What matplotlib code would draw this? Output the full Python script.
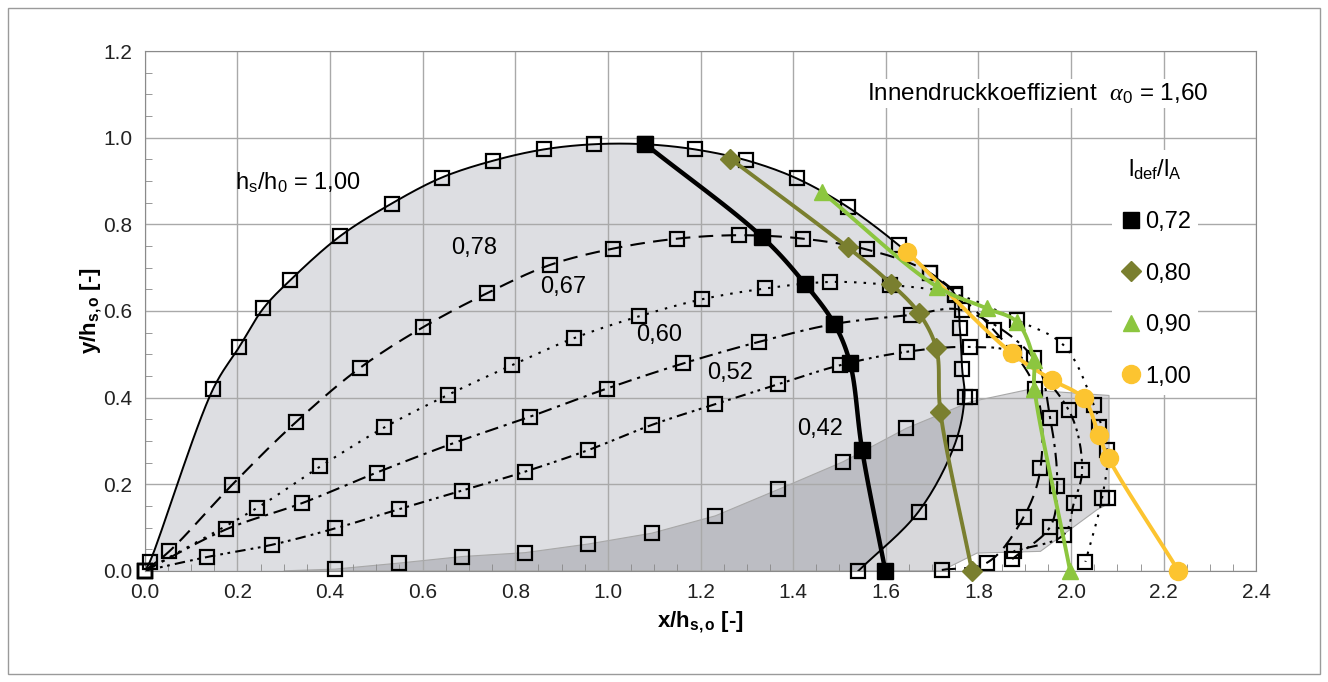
import numpy as np
import matplotlib
matplotlib.use('Agg')
import matplotlib.pyplot as plt
from matplotlib.patches import Polygon, Rectangle
from matplotlib.lines import Line2D
from matplotlib.ticker import MultipleLocator, FormatStrFormatter

plt.rcParams['font.family'] = ['Liberation Sans', 'DejaVu Sans']
plt.rcParams['mathtext.fontset'] = 'custom'
plt.rcParams['mathtext.rm'] = 'Liberation Sans'
plt.rcParams['mathtext.it'] = 'Liberation Serif:italic'
plt.rcParams['mathtext.bf'] = 'Liberation Sans:bold'

# --- hose contours for hs/h0 (open squares) ---
x_100 = [0.0, 0.011, 0.148, 0.204, 0.256, 0.314, 0.422, 0.533, 0.641, 0.752, 0.861, 0.969, 1.081,
         1.189, 1.299, 1.408, 1.518, 1.628, 1.695, 1.750, 1.760, 1.765, 1.770, 1.750, 1.671, 1.541]
y_100 = [0.0, 0.021, 0.421, 0.517, 0.606, 0.671, 0.773, 0.848, 0.908, 0.947, 0.973, 0.985, 0.985,
         0.973, 0.948, 0.906, 0.840, 0.752, 0.688, 0.637, 0.560, 0.465, 0.402, 0.295, 0.137, 0.0]

x_078 = [0.0, 0.053, 0.188, 0.327, 0.464, 0.600, 0.739, 0.874, 1.011, 1.149, 1.284, 1.421, 1.559,
         1.695, 1.833, 1.923, 1.934, 1.898, 1.819, 1.721]
y_078 = [0.0, 0.045, 0.198, 0.344, 0.468, 0.562, 0.641, 0.706, 0.744, 0.767, 0.775, 0.767, 0.742,
         0.688, 0.556, 0.421, 0.237, 0.125, 0.019, 0.002]

x_067 = [0.0, 0.242, 0.379, 0.517, 0.654, 0.793, 0.926, 1.068, 1.203, 1.340, 1.479, 1.610, 1.750,
         1.883, 1.984, 2.049, 2.078, 2.067, 2.031]
y_067 = [0.0, 0.145, 0.241, 0.331, 0.406, 0.475, 0.537, 0.588, 0.627, 0.652, 0.667, 0.660, 0.639,
         0.579, 0.521, 0.383, 0.280, 0.168, 0.021]

x_060 = [0.0, 0.176, 0.339, 0.501, 0.667, 0.832, 0.998, 1.163, 1.327, 1.489, 1.655, 1.765, 1.919,
         1.955, 1.970, 1.955, 1.873]
y_060 = [0.0, 0.096, 0.156, 0.227, 0.295, 0.356, 0.421, 0.479, 0.529, 0.570, 0.591, 0.602, 0.491,
         0.352, 0.196, 0.102, 0.027]

x_052 = [0.0, 0.135, 0.274, 0.411, 0.548, 0.685, 0.821, 0.958, 1.095, 1.232, 1.368, 1.502, 1.646,
         1.782, 1.876, 1.995, 2.024, 2.006, 1.984, 1.876]
y_052 = [0.0, 0.032, 0.060, 0.098, 0.142, 0.185, 0.229, 0.279, 0.337, 0.385, 0.431, 0.475, 0.506,
         0.517, 0.503, 0.371, 0.233, 0.156, 0.083, 0.045]

x_042 = [0.411, 0.550, 0.685, 0.821, 0.958, 1.095, 1.232, 1.368, 1.508, 1.644, 1.782, 2.060, 2.080]
y_042 = [0.004, 0.018, 0.033, 0.042, 0.062, 0.087, 0.127, 0.188, 0.252, 0.329, 0.402, 0.333, 0.168]

# shaded area of the 0,42 contour
fill42_x = [0.30, 0.411, 0.550, 0.685, 0.821, 0.958, 1.095, 1.232, 1.368, 1.508, 1.644, 1.782,
            1.905, 2.082, 2.082, 2.056, 1.934, 1.797, 1.720]
fill42_y = [0.0, 0.004, 0.018, 0.033, 0.042, 0.062, 0.087, 0.127, 0.188, 0.252, 0.329, 0.390,
            0.418, 0.405, 0.156, 0.141, 0.045, 0.041, 0.0]

curve_labels = ['0,78', '0,67', '0,60', '0,52', '0,42']
curve_label_x = [0.662, 0.854, 1.062, 1.214, 1.408]
curve_label_y = [0.745, 0.656, 0.544, 0.456, 0.327]

# --- crest lines for ldef/lA (filled markers) ---
x_l072 = [1.081, 1.333, 1.426, 1.489, 1.523, 1.549, 1.599]
y_l072 = [0.985, 0.771, 0.662, 0.570, 0.479, 0.279, 0.0]
x_l080 = [1.264, 1.518, 1.612, 1.671, 1.709, 1.718, 1.786]
y_l080 = [0.952, 0.747, 0.662, 0.596, 0.514, 0.367, 0.0]
x_l090 = [1.462, 1.711, 1.818, 1.883, 1.919, 1.921, 1.998]
y_l090 = [0.875, 0.656, 0.606, 0.575, 0.487, 0.421, 0.0]
x_l100 = [1.646, 1.873, 1.959, 2.027, 2.060, 2.081, 2.232]
y_l100 = [0.737, 0.502, 0.441, 0.398, 0.314, 0.260, 0.0]
ldef_labels = ['0,72', '0,80', '0,90', '1,00']


def smooth(x, y, n=16, a=0.5):
    # centripetal Catmull-Rom through the points (similar to Excel's smoothed lines)
    pts = np.column_stack([x, y]).astype(float)
    p = np.vstack([2 * pts[0] - pts[1], pts, 2 * pts[-1] - pts[-2]])
    out = []
    for i in range(1, len(p) - 2):
        p0, p1, p2, p3 = p[i - 1], p[i], p[i + 1], p[i + 2]
        t0 = 0.0
        t1 = t0 + max(np.linalg.norm(p1 - p0), 1e-6) ** a
        t2 = t1 + max(np.linalg.norm(p2 - p1), 1e-6) ** a
        t3 = t2 + max(np.linalg.norm(p3 - p2), 1e-6) ** a
        t = np.linspace(t1, t2, n, endpoint=False)[:, None]
        a1 = (t1 - t) / (t1 - t0) * p0 + (t - t0) / (t1 - t0) * p1
        a2 = (t2 - t) / (t2 - t1) * p1 + (t - t1) / (t2 - t1) * p2
        a3 = (t3 - t) / (t3 - t2) * p2 + (t - t2) / (t3 - t2) * p3
        b1 = (t2 - t) / (t2 - t0) * a1 + (t - t0) / (t2 - t0) * a2
        b2 = (t3 - t) / (t3 - t1) * a2 + (t - t1) / (t3 - t1) * a3
        out.append((t2 - t) / (t2 - t1) * b1 + (t - t1) / (t2 - t1) * b2)
    out.append(pts[-1:])
    s = np.vstack(out)
    return s[:, 0], s[:, 1]


fig = plt.figure(figsize=(13.28, 6.82), dpi=100)
ax = fig.add_axes([0.109, 0.163, 0.837, 0.762])
fig.patches.append(Rectangle((0.006, 0.012), 0.988, 0.976, transform=fig.transFigure,
                             fill=False, edgecolor='#9a9a9a', lw=1))

# shaded areas
sx, sy = smooth(x_100, y_100)
ax.add_patch(Polygon(np.column_stack([sx, sy]), closed=True, facecolor='#dddee2',
                     edgecolor='none', zorder=0.2))
ax.add_patch(Polygon(np.column_stack([fill42_x, fill42_y]), closed=True, facecolor='#1c1c2c',
                     alpha=0.17, edgecolor='none', zorder=0.3))
ax.add_patch(Polygon(np.column_stack([fill42_x, fill42_y]), closed=True, facecolor='none',
                     edgecolor='#a8a8a8', lw=0.8, zorder=0.4))

mk = dict(marker='s', ms=10, mfc='none', mec='black', mew=1.6, ls='none', zorder=3, clip_on=False)

ax.plot(sx, sy, color='black', lw=1.4, zorder=2)
ax.plot(x_100, y_100, **mk)

for xs, ys, dash in [(x_078, y_078, (7, 4)),
                     (x_067, y_067, (1.2, 3.4)),
                     (x_060, y_060, (6.5, 2.8, 1.5, 2.8)),
                     (x_052, y_052, (5, 2.5, 1.3, 2.2, 1.3, 2.5))]:
    cx, cy = smooth(xs, ys)
    ax.plot(cx, cy, color='black', lw=1.5, dashes=dash, zorder=2)
    ax.plot(xs, ys, **mk)

ax.plot(x_042, y_042, **mk)

for lab, lx, ly in zip(curve_labels, curve_label_x, curve_label_y):
    ax.text(lx, ly, lab, fontsize=17, va='center', ha='left', zorder=6)
ax.text(0.195, 0.897, r'h$_\mathregular{s}$/h$_\mathregular{0}$ = 1,00', fontsize=17,
        va='center', ha='left', zorder=6)

# ldef/lA lines
series = [(x_l072, y_l072, 'black', 's', 12, 3.2),
          (x_l080, y_l080, '#7a7f2f', 'D', 10, 2.8),
          (x_l100, y_l100, '#fcc430', 'o', 13, 2.8),
          (x_l090, y_l090, '#8cc63f', '^', 12, 2.8)]
for xs, ys, col, m, ms, lw in series:
    cx, cy = smooth(xs, ys)
    ax.plot(cx, cy, color=col, lw=lw, zorder=4, solid_capstyle='round')
    ax.plot(xs, ys, ls='none', marker=m, ms=ms, color=col, mec=col, zorder=5, clip_on=False)

handles = [Line2D([], [], ls='none', marker='s', ms=12, color='black'),
           Line2D([], [], ls='none', marker='D', ms=10, color='#7a7f2f'),
           Line2D([], [], ls='none', marker='^', ms=12, color='#8cc63f'),
           Line2D([], [], ls='none', marker='o', ms=13, color='#fcc430')]
leg = ax.legend(handles, ldef_labels, title=r'l$_\mathregular{def}$/l$_\mathregular{A}$',
                loc='center', bbox_to_anchor=(0.909, 0.574), fontsize=17, title_fontsize=17,
                frameon=True, fancybox=False, framealpha=1, edgecolor='none',
                labelspacing=1.25, handletextpad=0.1, handlelength=1.0, borderpad=0.3)
leg.set_zorder(7)

ax.text(1.927, 1.102, r'Innendruckkoeffizient  $\alpha_0$ = 1,60', fontsize=17.5, ha='center',
        va='center', zorder=7,
        bbox=dict(facecolor='white', edgecolor='none', pad=2))

ax.set_xlim(0, 2.4)
ax.set_ylim(0, 1.2)
ax.xaxis.set_major_locator(MultipleLocator(0.2))
ax.yaxis.set_major_locator(MultipleLocator(0.2))
ax.xaxis.set_minor_locator(MultipleLocator(0.05))
ax.yaxis.set_minor_locator(MultipleLocator(0.05))
ax.xaxis.set_major_formatter(FormatStrFormatter('%.1f'))
ax.yaxis.set_major_formatter(FormatStrFormatter('%.1f'))
ax.tick_params(which='major', length=0, labelsize=15, pad=9, colors='#222222')
ax.tick_params(which='minor', direction='in', length=5, color='#888888')
ax.grid(True, which='major', color='#a9a9a9', lw=1)
ax.set_axisbelow(True)
for sp in ax.spines.values():
    sp.set_color('#8a8a8a')

ax.set_xlabel(r'$\mathbf{x/h_{s,o}}$ [-]', fontsize=16, fontweight='bold', labelpad=5)
ax.set_ylabel(r'$\mathbf{y/h_{s,o}}$ [-]', fontsize=16, fontweight='bold', labelpad=-1)

fig.savefig('out.png', dpi=100)
